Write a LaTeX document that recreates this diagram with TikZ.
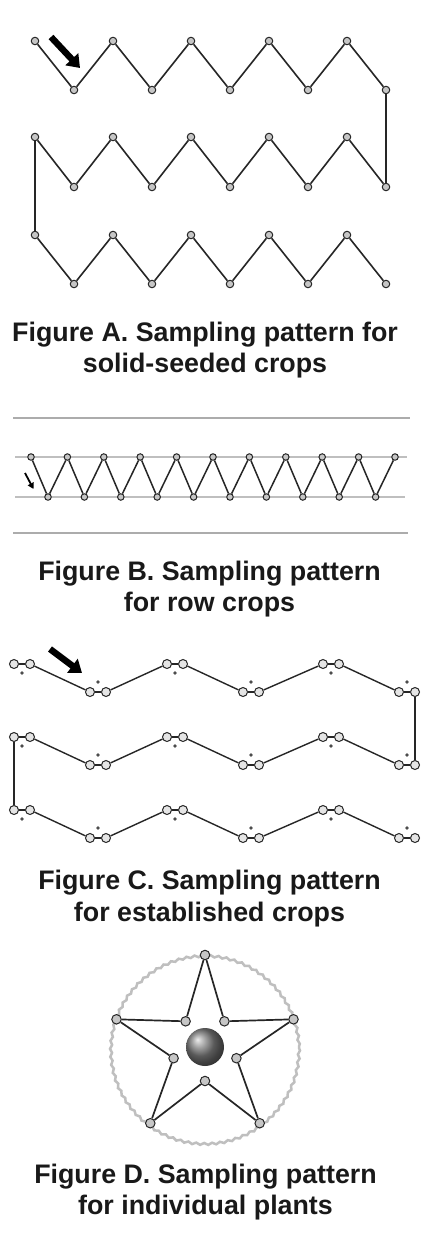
\documentclass[tikz,border=0pt]{standalone}
\usepackage{fontspec}
\setmainfont{Liberation Sans}
\usetikzlibrary{arrows.meta,decorations.pathmorphing}
\begin{document}
\begin{tikzpicture}[x=1pt,y=-1pt,
  dotA/.style={circle,draw=black!85,fill=gray!45,line width=1pt,minimum size=7.5pt,inner sep=0pt},
  dotB/.style={dotA,minimum size=6.5pt},
  dotC/.style={dotA,fill=gray!20,minimum size=9pt},
  dotD/.style={dotA,minimum size=9.5pt},
  tinydot/.style={circle,fill=black!70,minimum size=3.6pt,inner sep=0pt},
  zig/.style={draw=black!85,line width=1.6pt},
  rowline/.style={draw=gray!65,line width=1.6pt},
  midline/.style={draw=gray!50,line width=1.3pt},
  bigarrow/.style={line width=6.5pt,-{Triangle[length=12pt,width=17pt]}},
  smallarrow/.style={line width=1.8pt,-{Triangle[length=6pt,width=6.5pt]}},
  captext/.style={font=\fontsize{26.8}{31}\selectfont\bfseries,anchor=base,inner sep=0pt,text=black!90}
]
\useasboundingbox (0,0) rectangle (438,1236);
\fill[white] (0,0) rectangle (438,1236);

% ---------------- Figure A ----------------
\foreach \r/\yt/\yb in {1/41/90, 2/137/187, 3/235/284} {
  \foreach \i in {0,...,9} {
    \pgfmathsetmacro\xx{35+39*\i}
    \ifodd\i
      \node[dotA] (a\r-\i) at (\xx,\yb) {};
    \else
      \node[dotA] (a\r-\i) at (\xx,\yt) {};
    \fi
  }
}
\foreach \r in {1,2,3} {
  \foreach \i [evaluate=\i as \j using int(\i+1)] in {0,...,8} {
    \draw[zig] (a\r-\i) -- (a\r-\j);
  }
}
\draw[zig] (a1-9) -- (a2-9);
\draw[zig] (a2-0) -- (a3-0);
\coordinate (aArrS) at (51,37);
\coordinate (aArrE) at (80,68);
\draw[bigarrow] (aArrS) -- (aArrE);

\node[captext] (capA1) at (205,341) {Figure A. Sampling pattern for};
\node[captext] (capA2) at (205,372) {solid-seeded crops};

% ---------------- Figure B ----------------
\coordinate (bl1a) at (13,418); \coordinate (bl1b) at (410,418);
\coordinate (bl2a) at (15,457); \coordinate (bl2b) at (407,457);
\coordinate (bl3a) at (15,497); \coordinate (bl3b) at (405,497);
\coordinate (bl4a) at (13,533); \coordinate (bl4b) at (408,533);
\draw[rowline] (bl1a) -- (bl1b);
\draw[midline] (bl2a) -- (bl2b);
\draw[midline] (bl3a) -- (bl3b);
\draw[rowline] (bl4a) -- (bl4b);
\foreach \k in {0,...,10} {
  \pgfmathsetmacro\xx{31+36.4*\k}
  \node[dotB] (bt\k) at (\xx,457) {};
}
\foreach \k in {0,...,9} {
  \pgfmathsetmacro\xx{48+36.4*\k}
  \node[dotB] (bb\k) at (\xx,497) {};
}
\foreach \k [evaluate=\k as \j using int(\k+1)] in {0,...,9} {
  \draw[zig,line width=1.5pt] (bt\k) -- (bb\k) -- (bt\j);
}
\coordinate (bArrS) at (25,473);
\coordinate (bArrE) at (33.5,489);
\draw[smallarrow] (bArrS) -- (bArrE);

\node[captext] (capB1) at (209.5,580) {Figure B. Sampling pattern};
\node[captext] (capB2) at (209.5,611) {for row crops};

% ---------------- Figure C ----------------
\foreach \r/\yp/\yv in {1/664/692, 2/737/765, 3/810/838} {
  \foreach \k/\xl in {0/14, 1/90, 2/167, 3/243, 4/323, 5/399} {
    \pgfmathsetmacro\xr{\xl+16}
    \pgfmathsetmacro\xm{\xl+8}
    \ifodd\k
      \node[dotC] (cL\r-\k) at (\xl,\yv) {};
      \node[dotC] (cR\r-\k) at (\xr,\yv) {};
      \node[tinydot] (cd\r-\k) at (\xm,\yv-10) {};
    \else
      \node[dotC] (cL\r-\k) at (\xl,\yp) {};
      \node[dotC] (cR\r-\k) at (\xr,\yp) {};
      \node[tinydot] (cd\r-\k) at (\xm,\yp+9) {};
    \fi
    \draw[zig,line width=1.3pt] (cL\r-\k) -- (cR\r-\k);
  }
  \foreach \k [evaluate=\k as \j using int(\k+1)] in {0,...,4} {
    \draw[zig,line width=1.4pt] (cR\r-\k) -- (cL\r-\j);
  }
}
\draw[zig,line width=1.4pt] (cR1-5) -- (cR2-5);
\draw[zig,line width=1.4pt] (cL2-0) -- (cL3-0);
\coordinate (cArrS) at (50,649);
\coordinate (cArrE) at (82,673);
\draw[bigarrow] (cArrS) -- (cArrE);

\node[captext] (capC1) at (209.5,889) {Figure C. Sampling pattern};
\node[captext] (capC2) at (209.5,921) {for established crops};

% ---------------- Figure D ----------------
\coordinate (dc) at (205,1048);
\draw[gray!50,line width=2.5pt,decorate,decoration={snake,segment length=8pt,amplitude=1pt}] (dc) circle (94);
\node[dotD] (o1) at (205,955) {};
\node[dotD] (o2) at (293.5,1019.3) {};
\node[dotD] (o3) at (259.7,1123.2) {};
\node[dotD] (o4) at (150.3,1123.2) {};
\node[dotD] (o5) at (116.5,1019.3) {};
\node[dotD] (i1) at (224.4,1021.3) {};
\node[dotD] (i2) at (236.4,1058.2) {};
\node[dotD] (i3) at (205,1081) {};
\node[dotD] (i4) at (173.6,1058.2) {};
\node[dotD] (i5) at (185.6,1021.3) {};
\draw[zig,line width=1.7pt] (o1) -- (i1) -- (o2) -- (i2) -- (o3) -- (i3) -- (o4) -- (i4) -- (o5) -- (i5) -- (o1);
\node[circle,minimum size=38pt,inner sep=0pt,ball color=black!50] (ball) at (205,1047) {};

\node[captext] (capD1) at (205.5,1183) {Figure D. Sampling pattern};
\node[captext] (capD2) at (205.5,1214) {for individual plants};
\end{tikzpicture}
\end{document}
